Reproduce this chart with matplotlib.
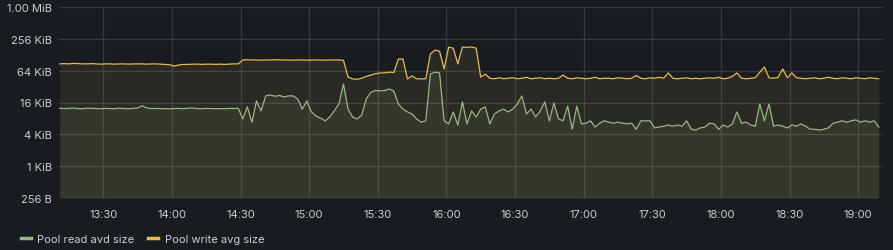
import pandas as pd
import matplotlib.pyplot as plt
import matplotlib.dates as mdates
from matplotlib.lines import Line2D

# Pool request sizes in KiB, sampled every 2 minutes from 13:11
times = pd.date_range('2024-01-01 13:11', periods=180, freq='2min')

write_kib = [
    86, 87, 86, 88, 87, 86, 86, 87, 86, 85,
    86, 86, 85, 86, 86, 85, 86, 86, 86, 85,
    86, 86, 85, 84, 83, 78, 82, 84, 84, 85,
    85, 84, 85, 85, 84, 85, 84, 85, 86, 86,
    102, 103, 102, 102, 101, 102, 102, 103, 102, 102,
    102, 101, 102, 102, 101, 102, 102, 102, 101, 102,
    102, 102, 100, 48.5, 44.6, 44, 46, 50, 53, 56,
    58, 58, 60, 59, 106, 106, 44.6, 51, 45, 44.6,
    45, 132, 157, 150, 69, 179, 170, 86, 179, 176,
    180, 170, 48.5, 55, 46, 45, 47, 45, 46, 47,
    45, 46, 48, 45, 46, 47, 45, 46, 45, 46,
    53, 46, 45, 47, 46, 45, 46, 48, 45, 46,
    46, 45, 47, 46, 45, 46, 52, 46, 45, 47,
    46, 48, 46, 58, 46, 45, 46, 47, 45, 46,
    45, 46, 47, 46, 48, 45, 46, 50, 58, 46,
    45, 46, 47, 60, 75, 47, 46, 48, 69, 47,
    58, 47, 46, 45, 46, 47, 45, 46, 48, 46,
    45, 47, 46, 45, 47, 46, 45, 47, 46, 45,
]

read_kib = [
    12.5, 12.3, 12.4, 12.6, 12.3, 12.2, 12.5, 12.4, 12.3, 12.2,
    12.4, 12.3, 12.2, 12.5, 12.3, 12.2, 12.4, 12.6, 13.9, 12.6,
    12.3, 12.4, 12.2, 12.3, 12.1, 12.3, 12.4, 12.2, 12.5, 12.6,
    12.3, 12.2, 12.4, 12.3, 12.2, 12.3, 12.2, 12.4, 12.3, 12.5,
    7.8, 13.2, 6.8, 17.1, 11.1, 21.3, 22.2, 21.0, 21.8, 20.4,
    21.3, 21.3, 18.7, 12.0, 17.1, 10.6, 8.9, 8.1, 7.2, 8.5,
    11.1, 15.0, 35.7, 12.0, 8.5, 7.8, 9.3, 18.7, 25.0, 27.0,
    26.4, 27.0, 28.8, 26.4, 15.0, 12.0, 10.6, 9.7, 7.8, 6.8,
    7.2, 55, 60, 58, 7.2, 6.3, 10.6, 6.0, 16.4, 6.3,
    11.1, 8.5, 12.0, 13.2, 6.3, 9.7, 11.1, 12.0, 10.6, 12.0,
    15.0, 21.3, 9.7, 12.0, 8.5, 11.1, 16.4, 7.2, 15.7, 7.8,
    7.2, 13.7, 5.0, 13.7, 6.3, 6.5, 7.2, 5.5, 6.5, 7.2,
    6.8, 6.5, 6.8, 6.5, 6.3, 6.5, 5.0, 7.2, 7.2, 7.2,
    5.3, 5.5, 5.7, 6.0, 5.7, 6.0, 5.7, 7.2, 5.0, 4.8,
    5.3, 5.5, 6.5, 6.3, 5.0, 6.0, 5.5, 6.3, 10.6, 6.5,
    6.8, 6.0, 5.7, 15.0, 7.2, 15.0, 5.7, 6.0, 5.7, 5.3,
    6.0, 5.7, 6.3, 5.7, 5.0, 5.0, 4.8, 5.0, 5.3, 6.5,
    6.8, 7.2, 6.8, 7.2, 7.5, 6.8, 7.2, 6.8, 7.2, 5.5,
]

y_ticks = [0.25, 1, 4, 16, 64, 256, 1024]
y_labels = ['256 B', '1 KiB', '4 KiB', '16 KiB', '64 KiB', '256 KiB', '1.00 MiB']
series_names = ['Pool read avd size', 'Pool write avg size']

bg = '#181b1f'
text_col = '#ccccdc'
grid_col = '#36383d'
read_col = '#96b886'
write_col = '#e5bb4c'

plt.rcParams['font.family'] = ['Inter', 'DejaVu Sans']

fig = plt.figure(figsize=(8.93, 2.51), dpi=100, facecolor=bg)
ax = fig.add_axes([59 / 893, 52 / 251, 824 / 893, 191 / 251], facecolor=bg)

ax.fill_between(times, write_kib, 0.25, color=write_col, alpha=0.09, lw=0)
ax.fill_between(times, read_kib, 0.25, color=read_col, alpha=0.1, lw=0)
ax.plot(times, write_kib, color=write_col, lw=0.9)
ax.plot(times, read_kib, color=read_col, lw=0.9)

ax.set_yscale('log', base=2)
ax.set_ylim(0.25, 1024)
ax.set_yticks(y_ticks)
ax.set_yticklabels(y_labels)
ax.minorticks_off()

ax.set_xlim(pd.Timestamp('2024-01-01 13:10:40'), pd.Timestamp('2024-01-01 19:10:50'))
ax.xaxis.set_major_locator(mdates.MinuteLocator(byminute=[0, 30]))
ax.xaxis.set_major_formatter(mdates.DateFormatter('%H:%M'))

ax.grid(True, color=grid_col, lw=1)
ax.set_axisbelow(True)
for s in ax.spines.values():
    s.set_visible(False)
ax.tick_params(length=0, colors=text_col, labelsize=8)
ax.tick_params(axis='y', pad=5)
ax.tick_params(axis='x', pad=8)

handles = [Line2D([], [], color=read_col, lw=2.5),
           Line2D([], [], color=write_col, lw=2.5)]
fig.legend(handles, series_names, loc='center left', bbox_to_anchor=(0.012, 0.045),
           ncol=2, frameon=False, fontsize=8, labelcolor=text_col,
           handlelength=0.9, handletextpad=0.6, columnspacing=1.2)

fig.savefig('out.png', dpi=100, facecolor=bg)
